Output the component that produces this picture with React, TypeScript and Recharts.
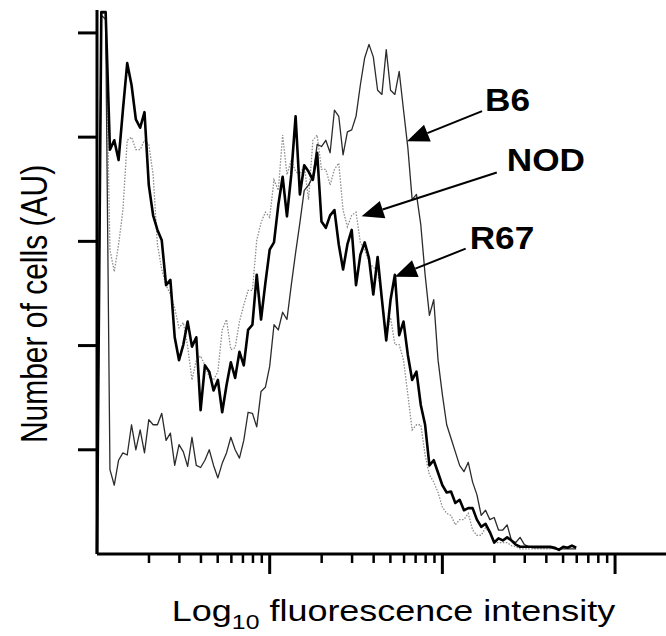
import React from 'react';
import { LineChart, Line, XAxis, YAxis, ReferenceLine } from 'recharts';

// channel = 40 per log decade, channel 0 = 10^0
const r67 = [
  0, 520, 520, 388, 397, 378, 426, 471, 450, 417,
  409, 424, 354, 325, 311, 301, 258, 263, 208, 186,
  201, 223, 199, 208, 138, 181, 175, 157, 167, 136,
  162, 184, 169, 194, 181, 215, 220, 268, 225, 260,
  292, 299, 335, 362, 324, 364, 420, 345, 373, 367,
  359, 385, 319, 313, 325, 330, 297, 273, 297, 311,
  258, 287, 299, 284, 249, 285, 244, 205, 244, 268,
  210, 223, 191, 167, 175, 143, 124, 85, 90, 78,
  66, 59, 60, 49, 52, 42, 44, 44, 33, 26,
  29, 21, 11, 15, 13, 16, 13, 9, 7, 7,
  7, 7, 7, 7, 7, 7, 6, 4, 7, 6,
  8, 6,
];

const nod = [
  9, 520, 517, 292, 271, 297, 330, 397, 400, 388,
  388, 397, 393, 364, 297, 273, 258, 249, 236, 217,
  222, 199, 167, 186, 190, 181, 170, 167, 175, 215,
  225, 196, 198, 223, 239, 253, 253, 301, 318, 328,
  323, 359, 349, 402, 364, 378, 367, 364, 373, 340,
  397, 402, 369, 369, 354, 369, 375, 330, 314, 325,
  328, 299, 292, 280, 275, 273, 244, 210, 227, 201,
  201, 186, 153, 119, 124, 124, 95, 76, 69, 59,
  45, 39, 37, 28, 33, 33, 39, 23, 18, 18,
  25, 20, 11, 11, 11, 11, 8, 7, 5, 5,
  5, 5, 5, 5, 5, 5,
];

const b6 = [
  9, 517, 513, 81, 66, 90, 97, 95, 124, 100,
  119, 97, 129, 124, 124, 135, 109, 116, 85, 105,
  98, 84, 112, 85, 83, 90, 100, 85, 73, 87,
  97, 112, 100, 92, 109, 136, 135, 122, 156, 160,
  180, 220, 215, 232, 225, 258, 289, 318, 349, 354,
  362, 393, 391, 397, 385, 426, 420, 383, 405, 407,
  420, 450, 476, 489, 477, 445, 441, 484, 445, 441,
  463, 426, 390, 340, 345, 316, 268, 229, 244, 186,
  153, 124, 111, 98, 85, 79, 88, 69, 57, 37,
  42, 33, 35, 23, 23, 28, 13, 11, 16, 9,
  7, 6, 6, 6, 6, 6, 5, 5, 5, 5,
  5, 5,
];

const yTicks = [100, 200, 300, 400, 500];
const decades = [1, 10, 100, 1000];
const multiples = [1, 2, 3, 4, 5, 6, 7, 8, 9];

const arrowLabels = ['B6', 'NOD', 'R67'];
const arrowTails = [
  { x: 89.2, y: 425 },
  { x: 92.6, y: 366 },
  { x: 85.4, y: 293 },
];
const arrowTips = [
  { x: 71.8, y: 396 },
  { x: 61.3, y: 324 },
  { x: 69, y: 266 },
];
const labelOffsets = [
  [3, 0],
  [10, -2],
  [4, 0],
];

const PER_DECADE = 40;
const X_MAX = 131.8;
const FONT = '"Liberation Sans", Arial, sans-serif';

const data = r67.map((_, ch) => ({ ch, b6: b6[ch], nod: nod[ch], r67: r67[ch] }));

const xTicks: number[] = [];
decades.forEach((d) =>
  multiples.forEach((m) => {
    const ch = PER_DECADE * Math.log10(d * m);
    if (ch > 0 && ch <= X_MAX) xTicks.push(ch);
  }),
);

const XTick = (props: any) => {
  const { x, y, payload } = props;
  const major = Math.abs(payload.value % PER_DECADE) < 0.01;
  return (
    <line
      x1={x}
      x2={x}
      y1={y}
      y2={y + (major ? 20 : 9)}
      stroke="#000"
      strokeWidth={major ? 3 : 2.5}
    />
  );
};

const YTick = (props: any) => {
  const { x, y } = props;
  return <line x1={x - 19} x2={x} y1={y} y2={y} stroke="#000" strokeWidth={3} />;
};

const XTitle = () => (
  <text
    transform="translate(393.5,621) scale(1.24,1)"
    textAnchor="middle"
    fontFamily={FONT}
    fontSize={29}
    fill="#000"
  >
    Log
    <tspan fontSize={20} dy={8}>
      10
    </tspan>
    <tspan dy={-8}> fluorescence intensity</tspan>
  </text>
);

const YTitle = () => (
  <text
    transform="translate(47,304) scale(1.25,1) rotate(-90)"
    textAnchor="middle"
    fontFamily={FONT}
    fontSize={30}
    fill="#000"
  >
    Number of cells (AU)
  </text>
);

const Arrow = (props: any) => {
  const { x1, y1, x2, y2, text, dx, dy } = props;
  const ang = Math.atan2(y2 - y1, x2 - x1);
  const len = 22;
  const hw = 9;
  const bx = x2 - len * Math.cos(ang);
  const by = y2 - len * Math.sin(ang);
  const px = -Math.sin(ang) * hw;
  const py = Math.cos(ang) * hw;
  return (
    <g>
      <line x1={x1} y1={y1} x2={bx} y2={by} stroke="#000" strokeWidth={2} />
      <polygon points={`${x2},${y2} ${bx + px},${by + py} ${bx - px},${by - py}`} fill="#000" />
      <text
        transform={`translate(${x1 + dx},${y1 + dy}) scale(1.1,1)`}
        fontFamily={FONT}
        fontWeight="bold"
        fontSize={32}
        fill="#000"
      >
        {text}
      </text>
    </g>
  );
};

export default function App() {
  return (
    <div style={{ position: 'absolute', left: 0, top: 0, width: 666, height: 636, background: '#fff' }}>
      <LineChart width={666} height={636} data={data} margin={{ top: 10, right: 0, bottom: 0, left: 0 }}>
        <XAxis
          type="number"
          dataKey="ch"
          domain={[0, X_MAX]}
          ticks={xTicks}
          interval={0}
          tickSize={0}
          tickMargin={0}
          tickLine={false}
          tick={<XTick />}
          axisLine={{ stroke: '#000', strokeWidth: 3 }}
          height={82}
          label={<XTitle />}
        />
        <YAxis
          type="number"
          domain={[0, 522]}
          ticks={yTicks}
          interval={0}
          tickSize={0}
          tickMargin={0}
          tickLine={false}
          tick={<YTick />}
          axisLine={{ stroke: '#000', strokeWidth: 3 }}
          width={97}
          label={<YTitle />}
        />
        <Line
          dataKey="nod"
          type="linear"
          stroke="#8c8c8c"
          strokeWidth={1.3}
          strokeDasharray="1.5 1.5"
          dot={false}
          activeDot={false}
          isAnimationActive={false}
        />
        <Line
          dataKey="b6"
          type="linear"
          stroke="#2b2b2b"
          strokeWidth={1.3}
          strokeLinejoin="round"
          dot={false}
          activeDot={false}
          isAnimationActive={false}
        />
        <Line
          dataKey="r67"
          type="linear"
          stroke="#000"
          strokeWidth={2.6}
          strokeLinejoin="round"
          dot={false}
          activeDot={false}
          isAnimationActive={false}
        />
        {arrowLabels.map((name, i) => (
          <ReferenceLine
            key={name}
            segment={[arrowTails[i], arrowTips[i]]}
            shape={(p: any) => <Arrow {...p} text={name} dx={labelOffsets[i][0]} dy={labelOffsets[i][1]} />}
          />
        ))}
      </LineChart>
    </div>
  );
}
